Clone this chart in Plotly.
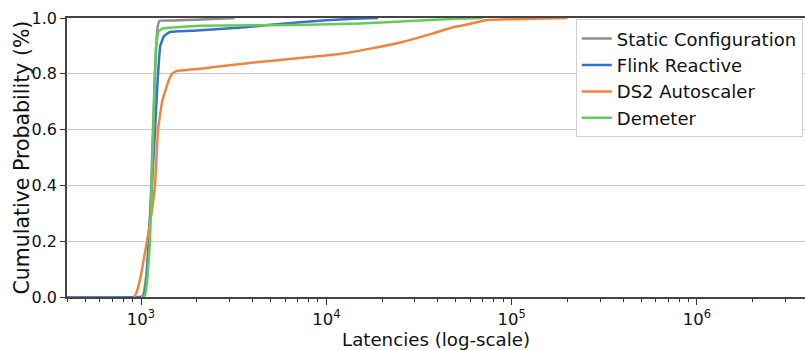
import plotly.graph_objects as go

# ---- data ----
static_lat = [100, 1000, 1025, 1060, 1104, 1135, 1160, 1190, 1215, 1235, 1260, 1500, 2000, 3200]
static_p = [0.0, 0.0, 0.005, 0.06, 0.2, 0.4, 0.6, 0.8, 0.93, 0.975, 0.99, 0.991, 0.994, 1.0]

flink_lat = [100, 1000, 1040, 1070, 1100, 1150, 1190, 1230, 1270, 1330, 1430, 2000, 3500, 7200, 10000, 14000, 19000]
flink_p = [0.0, 0.0, 0.005, 0.06, 0.2, 0.42, 0.6, 0.78, 0.9, 0.935, 0.95, 0.955, 0.966, 0.985, 0.992, 0.997, 1.0]

ds2_lat = [905, 927, 960, 1000, 1077, 1140, 1190, 1235, 1300, 1400, 1470, 1560, 2080, 3870, 7200, 11800,
           17900, 25000, 37700, 48300, 56000, 73600, 130000, 200000]
ds2_p = [0.0, 0.003, 0.03, 0.08, 0.2, 0.3, 0.4, 0.6, 0.7, 0.77, 0.8, 0.81, 0.818, 0.839, 0.857, 0.871,
         0.892, 0.912, 0.945, 0.967, 0.975, 0.993, 0.997, 1.0]

demeter_lat = [1000, 1050, 1080, 1118, 1140, 1165, 1200, 1240, 1300, 2080, 7000, 15000, 30000, 50000, 70000]
demeter_p = [0.0, 0.005, 0.06, 0.2, 0.4, 0.6, 0.88, 0.95, 0.962, 0.972, 0.975, 0.98, 0.99, 0.997, 1.0]

series_names = ["Static Configuration", "Flink Reactive", "DS2 Autoscaler", "Demeter"]
series_colors = ["#8e8e8e", "#3b6fd4", "#f0843e", "#62cc58"]

x_tickvals = [1e3, 1e4, 1e5, 1e6]
x_ticktext = ["10<sup>3</sup>", "10<sup>4</sup>", "10<sup>5</sup>", "10<sup>6</sup>"]
x_minor_vals = [m * 10 ** e for e in range(2, 7) for m in range(2, 10)]
y_tickvals = [0.0, 0.2, 0.4, 0.6, 0.8, 1.0]
y_ticktext = ["0.0", "0.2", "0.4", "0.6", "0.8", "1.0"]

fig = go.Figure()
for name, xs, ys, col in zip(series_names,
                             [static_lat, flink_lat, ds2_lat, demeter_lat],
                             [static_p, flink_p, ds2_p, demeter_p],
                             series_colors):
    fig.add_trace(go.Scatter(x=xs, y=ys, mode="lines", name=name,
                             line=dict(color=col, width=2.5, shape="spline", smoothing=0.3)))

font = "DejaVu Sans, sans-serif"
fig.update_layout(
    width=805, height=350,
    margin=dict(l=67, r=0, t=18, b=51),
    paper_bgcolor="white", plot_bgcolor="white",
    font=dict(family=font, size=18, color="#111111"),
    showlegend=True,
    legend=dict(x=0.997, y=0.995, xanchor="right", yanchor="top",
                bgcolor="white", bordercolor="#d0d0d0", borderwidth=1,
                font=dict(size=18), tracegroupgap=0, itemwidth=30),
    annotations=[dict(text="Cumulative Probability (%)", textangle=-90,
                      xref="paper", yref="paper", x=-0.0623, y=0.5,
                      xanchor="center", yanchor="middle", showarrow=False,
                      font=dict(size=20.5, family=font, color="#111111"))],
)
fig.update_xaxes(
    type="log", range=[2.6006, 6.583],
    tickvals=x_tickvals, ticktext=x_ticktext,
    ticks="outside", ticklen=6, tickwidth=1, tickcolor="#333333",
    minor=dict(tickmode="array", tickvals=x_minor_vals, ticks="outside", ticklen=3,
               tickcolor="#333333", showgrid=False),
    showgrid=False, showline=True, linecolor="#444444", linewidth=1.5, mirror=True,
    zeroline=False,
    title=dict(text="Latencies (log-scale)", font=dict(size=18.2), standoff=9),
    tickfont=dict(size=16.5),
)
fig.update_yaxes(
    range=[0, 1.0],
    tickvals=y_tickvals, ticktext=y_ticktext,
    ticks="outside", ticklen=5, tickwidth=1, tickcolor="#333333",
    showgrid=True, gridcolor="#c8c8c8", gridwidth=1,
    showline=True, linecolor="#444444", linewidth=1.5, mirror=False,
    zeroline=False,
    tickfont=dict(size=16),
)

fig.write_html("out.html")
